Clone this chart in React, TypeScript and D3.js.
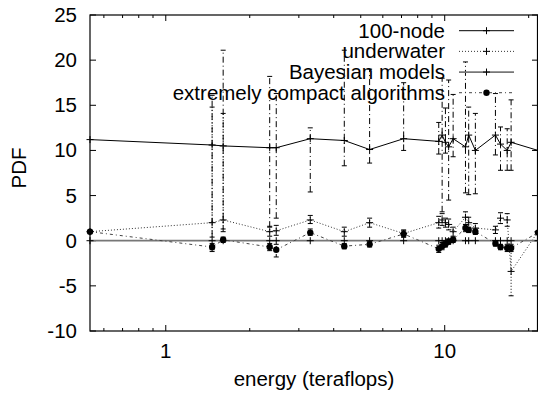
import React, { useEffect, useRef } from "react";
import * as d3 from "d3";

// x positions (energy, teraflops) shared by every series
const ENERGY = [0.535, 1.466, 1.606, 2.358, 2.489, 3.296, 4.365, 5.38, 7.125, 9.52, 9.79, 10.06, 10.33, 10.72, 11.87, 12.19, 12.88, 15.2, 15.85, 16.75, 17.3, 21.6];

// 100-node
const NODE_Y = [11.2, 10.6, 10.5, 10.3, 10.3, 11.3, 11.1, 10.1, 11.3, 11.0, 11.7, 10.9, 10.4, 11.3, 10.4, 11.7, 10.0, 11.7, 10.7, 10.0, 10.9, 10.0];
const NODE_LO = [11.2, -1.0, 1.0, 1.5, 2.5, 5.4, 8.3, 8.6, 10.0, 9.6, 3.2, 9.7, 4.5, 9.3, 5.3, 5.1, 5.2, 9.5, 7.8, 7.8, 7.8, 10.0];
const NODE_HI = [11.2, 16.1, 21.1, 18.2, 16.3, 12.5, 21.1, 19.0, 17.5, 13.1, 18.0, 14.7, 17.8, 16.2, 19.8, 14.8, 14.1, 16.3, 12.6, 12.4, 15.6, 10.0];

// underwater
const UW_Y = [1.0, 2.0, 2.3, 1.0, 1.1, 2.3, 1.0, 2.0, 0.8, 2.0, 2.3, 2.0, 1.8, 1.0, 2.6, 2.0, 1.4, 1.2, 2.5, 2.3, -3.4, 1.0];
const UW_LO = [1.0, 0.4, 1.3, 0.5, 0.6, 1.9, 0.5, 1.5, 0.4, 1.4, 1.7, 1.5, 1.2, 0.5, 1.8, 1.4, 0.9, 0.8, 1.9, 1.6, -6.1, 1.0];
const UW_HI = [1.0, 14.8, 14.1, 1.6, 1.7, 2.8, 1.5, 2.5, 1.2, 2.7, 3.0, 2.5, 2.4, 1.5, 3.2, 2.6, 1.9, 1.6, 3.1, 3.0, -1.0, 1.0];

// Bayesian models
const BAYES_Y = [0, 0, 0, 0, 0, 0, 0, 0, 0, 0, 0, 0, 0, 0, 0, 0, 0, 0, 0, 0, 0, 0];

// extremely compact algorithms
const ECA_Y = [1.0, -0.7, 0.1, -0.7, -1.0, 0.9, -0.6, -0.4, 0.75, -0.9, -0.6, -0.4, -0.1, 0.1, 1.4, 1.2, 1.0, -0.3, -0.7, -0.8, -0.8, 0.9];
const ECA_LO = [1.0, -1.2, -0.2, -1.1, -1.8, 0.6, -0.9, -0.7, 0.4, -1.3, -1.0, -0.7, -0.4, -0.2, 1.0, 0.9, 0.7, -0.6, -1.0, -1.2, -1.2, 0.9];
const ECA_HI = [1.0, -0.3, 0.4, -0.3, -0.4, 1.3, -0.3, -0.1, 1.1, -0.5, -0.2, -0.1, 0.2, 0.4, 1.8, 1.5, 1.3, 0.0, -0.4, -0.4, -0.4, 0.9];

const SERIES_NAMES = ["100-node", "underwater", "Bayesian models", "extremely compact algorithms"];
const Y_TICKS = [-10, -5, 0, 5, 10, 15, 20, 25];
const X_TICK_LABELS = [1, 10];
const X_MINOR = [0.6, 0.7, 0.8, 0.9, 2, 3, 4, 5, 6, 7, 8, 9, 20];

const FONT = "'Liberation Sans', Arial, Helvetica, sans-serif";

const App = () => {
  const svgRef = useRef<SVGSVGElement>(null);

  useEffect(() => {
    const svg = d3.select(svgRef.current);
    svg.selectAll("*").remove();

    const left = 90, right = 538, top = 15, bottom = 331;
    const x = d3.scaleLog().domain([0.535, 21.6]).range([left, right]);
    const y = d3.scaleLinear().domain([-10, 25]).range([bottom, top]);

    // frame
    svg.append("rect")
      .attr("x", left).attr("y", top)
      .attr("width", right - left - 0.5).attr("height", bottom - top)
      .attr("fill", "none").attr("stroke", "#000").attr("stroke-width", 1.2);

    // y ticks, mirrored on the right
    Y_TICKS.forEach(t => {
      const yy = y(t);
      svg.append("line").attr("x1", left).attr("x2", left + 6).attr("y1", yy).attr("y2", yy).attr("stroke", "#000");
      svg.append("line").attr("x1", right - 6).attr("x2", right).attr("y1", yy).attr("y2", yy).attr("stroke", "#000");
      svg.append("text")
        .attr("x", 77).attr("y", yy + 7)
        .attr("text-anchor", "end")
        .style("font-family", FONT).style("font-size", "20.5px")
        .text(t);
    });

    // x ticks (log), mirrored on top
    X_TICK_LABELS.forEach(t => {
      const xx = x(t);
      svg.append("line").attr("x1", xx).attr("x2", xx).attr("y1", bottom).attr("y2", bottom - 6).attr("stroke", "#000");
      svg.append("line").attr("x1", xx).attr("x2", xx).attr("y1", top).attr("y2", top + 6).attr("stroke", "#000");
      svg.append("text")
        .attr("x", xx).attr("y", 358)
        .attr("text-anchor", "middle")
        .style("font-family", FONT).style("font-size", "20.5px")
        .text(t);
    });
    X_MINOR.forEach(t => {
      const xx = x(t);
      svg.append("line").attr("x1", xx).attr("x2", xx).attr("y1", bottom).attr("y2", bottom - 3).attr("stroke", "#000");
      svg.append("line").attr("x1", xx).attr("x2", xx).attr("y1", top).attr("y2", top + 3).attr("stroke", "#000");
    });

    // axis titles
    svg.append("text")
      .attr("x", 314).attr("y", 386)
      .attr("text-anchor", "middle")
      .style("font-family", FONT).style("font-size", "20.5px")
      .text("energy (teraflops)");
    svg.append("text")
      .attr("transform", "translate(26,168) rotate(-90)")
      .attr("text-anchor", "middle")
      .style("font-family", FONT).style("font-size", "20.5px")
      .text("PDF");

    const series = [
      { name: SERIES_NAMES[0], ys: NODE_Y, lo: NODE_LO, hi: NODE_HI, stroke: "#000", width: 1, dash: null, barDash: "6,3,1,3", marker: "plus" },
      { name: SERIES_NAMES[1], ys: UW_Y, lo: UW_LO, hi: UW_HI, stroke: "#333", width: 1, dash: "1,2", barDash: "1,2", marker: "plus" },
      { name: SERIES_NAMES[2], ys: BAYES_Y, lo: BAYES_Y, hi: BAYES_Y, stroke: "#777", width: 1.8, dash: null, barDash: null, marker: "plus" },
      { name: SERIES_NAMES[3], ys: ECA_Y, lo: ECA_LO, hi: ECA_HI, stroke: "#444", width: 1, dash: "3,3,1,3", barDash: "3,2,1,2", marker: "circle" },
    ];

    const lineGen = d3.line<number>()
      .x((d, i) => x(ENERGY[i]))
      .y(d => y(d));

    const drawMarker = (g, cx, cy, type, stroke) => {
      if (type === "circle") {
        g.append("circle").attr("cx", cx).attr("cy", cy).attr("r", 3.2).attr("fill", "#000");
      } else {
        g.append("line").attr("x1", cx - 3.5).attr("x2", cx + 3.5).attr("y1", cy).attr("y2", cy).attr("stroke", "#000").attr("stroke-width", 1);
        g.append("line").attr("x1", cx).attr("x2", cx).attr("y1", cy - 3.5).attr("y2", cy + 3.5).attr("stroke", "#000").attr("stroke-width", 1);
      }
    };

    series.forEach(s => {
      const g = svg.append("g");
      // error bars
      ENERGY.forEach((e, i) => {
        if (s.hi[i] === s.lo[i]) return;
        const xx = x(e);
        g.append("line")
          .attr("x1", xx).attr("x2", xx)
          .attr("y1", y(s.lo[i])).attr("y2", y(s.hi[i]))
          .attr("stroke", "#000").attr("stroke-width", 1)
          .attr("stroke-dasharray", s.barDash);
        [s.lo[i], s.hi[i]].forEach(v => {
          g.append("line")
            .attr("x1", xx - 2.5).attr("x2", xx + 2.5)
            .attr("y1", y(v)).attr("y2", y(v))
            .attr("stroke", "#000").attr("stroke-width", 1);
        });
      });
      g.append("path")
        .attr("d", lineGen(s.ys))
        .attr("fill", "none")
        .attr("stroke", s.stroke)
        .attr("stroke-width", s.width)
        .attr("stroke-dasharray", s.dash);
      ENERGY.forEach((e, i) => drawMarker(g, x(e), y(s.ys[i]), s.marker, s.stroke));
    });

    // legend
    const legend = svg.append("g");
    series.forEach((s, i) => {
      const cy = 30.7 + i * 20.67;
      legend.append("text")
        .attr("x", 445).attr("y", cy + 7)
        .attr("text-anchor", "end")
        .style("font-family", FONT).style("font-size", "20.5px")
        .text(s.name);
      legend.append("line")
        .attr("x1", 459).attr("x2", 514).attr("y1", cy).attr("y2", cy)
        .attr("stroke", s.stroke).attr("stroke-width", s.width)
        .attr("stroke-dasharray", s.dash);
      drawMarker(legend, 486.5, cy, s.marker, s.stroke);
    });
  }, []);

  return (
    <svg ref={svgRef} width={538} height={396} style={{ position: "absolute", left: 0, top: 0, background: "#fff" }}></svg>
  );
};

export default App;
